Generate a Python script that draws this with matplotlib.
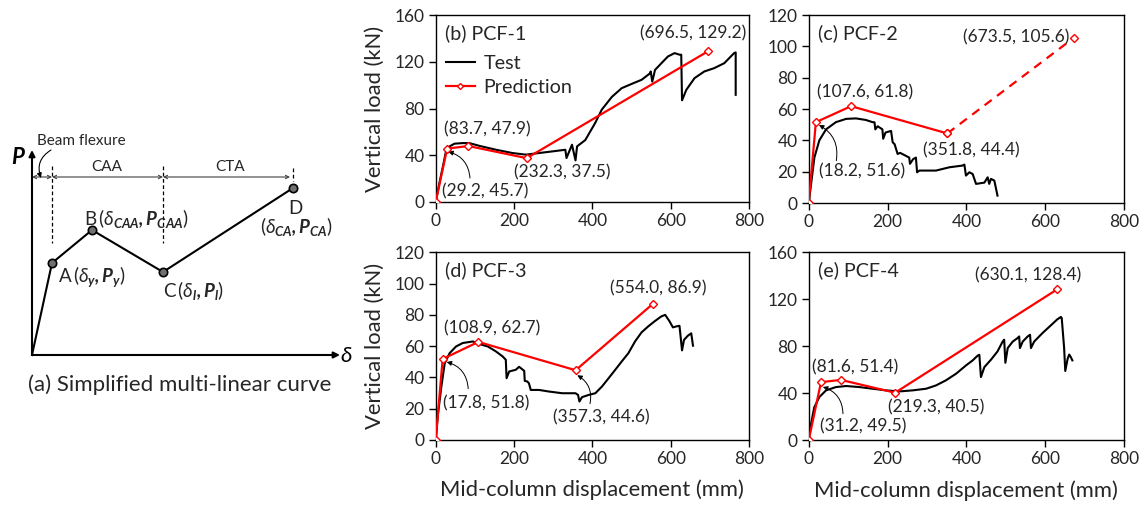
import matplotlib
matplotlib.use('Agg')
import matplotlib.pyplot as plt

plt.rcParams['font.family'] = ['Lato', 'DejaVu Sans']
plt.rcParams['mathtext.fontset'] = 'custom'
plt.rcParams['mathtext.rm'] = 'Lato'
plt.rcParams['mathtext.it'] = 'Lato:italic'
plt.rcParams['mathtext.bf'] = 'Lato:bold'
plt.rcParams['mathtext.bfit'] = 'Lato:bold:italic'
plt.rcParams['mathtext.fallback'] = 'stix'

# ---------------- data ----------------
pcf1_test_x = [0, 10, 20, 27, 35.5, 48, 69, 86, 112, 154, 196, 230, 264, 298, 331, 334, 348, 357, 361,
               382, 407, 424, 450, 475, 500, 526, 547, 549, 553, 560, 576.5, 593, 610, 623, 627, 629,
               640, 661, 686, 711, 737, 762, 766, 766]
pcf1_test_y = [0, 17, 33, 44.7, 47.6, 49.9, 50.4, 50.4, 48, 44.7, 41.9, 40.5, 41.9, 43.3, 44.7, 37.6, 49,
               35.6, 47.6, 53, 67.5, 79, 90, 97.4, 101, 104.6, 110, 111.7, 103, 113, 118.8, 124.5, 127.4,
               126, 126, 87, 96, 106, 111.7, 114.5, 118.8, 127.4, 128, 91.7]
pcf1_pred_x = [0, 29.2, 83.7, 232.3, 696.5]
pcf1_pred_y = [0, 45.7, 47.9, 37.5, 129.2]

pcf2_test_x = [0, 6, 14.4, 27, 44, 69, 95, 120, 145, 162, 167, 169, 175, 187, 189, 195, 209, 213, 218,
               225.6, 232, 255, 257, 265, 272, 275, 281, 323, 357, 390.5, 395, 399, 407.6, 416, 424.6,
               445.7, 454, 458, 462.5, 471, 479]
pcf2_test_y = [0, 12, 29, 40, 47, 51.6, 53.7, 54, 53, 51.6, 51.5, 47, 49, 47, 41, 45, 46, 38.8, 37.5,
               31.3, 32, 29, 25, 28, 29, 19.6, 20.7, 20.7, 22.8, 23.9, 24.5, 17.5, 19.6, 18.5, 12.2,
               13, 16.4, 12.2, 15.4, 14.3, 4.7]
pcf2_pred_x = [0, 18.2, 107.6, 351.8, 673.5]
pcf2_pred_y = [0, 51.6, 61.8, 44.4, 105.6]

pcf3_test_x = [0, 6, 14.4, 23, 35.5, 52, 69, 95, 112, 133, 154, 171, 179, 181, 187.6, 204.5, 213, 226,
               227.4, 234, 238, 242.7, 264, 289, 323, 357, 363.5, 367, 373.6, 390.5, 407.6, 424.6,
               441.5, 458.5, 475, 492, 509, 525.6, 542.5, 559, 576, 586, 597, 605.7, 614, 622.5, 629,
               634, 644, 652.5, 657]
pcf3_test_y = [0, 17, 34, 49, 55.5, 59.8, 62, 63, 61.3, 59.8, 56.6, 53.4, 51.3, 39.5, 43.8, 44.9, 46.8,
               44.2, 37.8, 37.4, 36.3, 32, 32, 31, 29.9, 29.9, 28.8, 24.6, 27.4, 28.8, 29.9, 34.2, 39.5,
               44.9, 50.2, 55.5, 63, 68.8, 72.6, 75.9, 79, 80, 75.9, 72, 72.6, 73, 57.3, 64, 66.7,
               68.2, 60.3]
pcf3_pred_x = [0, 17.8, 108.9, 357.3, 554.0]
pcf3_pred_y = [0, 51.8, 62.7, 44.6, 86.9]

pcf4_test_x = [0, 6, 14, 27, 44, 69, 95, 128.5, 162, 196, 230, 264, 298, 323, 348, 374, 399, 416,
               428.5, 433, 437, 445.7, 462.5, 479, 492, 496, 499, 505, 517.6, 530, 534, 536, 543,
               555.6, 561.6, 564, 572, 593, 614, 631, 640, 642, 648, 651, 657, 661, 665, 669]
pcf4_test_y = [0, 14, 28, 36.8, 42.5, 45.3, 46.2, 45.3, 43.9, 42.5, 41.6, 42.5, 43.9, 46.7, 51, 56.7,
               63.7, 68, 72, 72.8, 53.8, 62.3, 68.6, 75.6, 84, 85.6, 66, 78.5, 84, 87, 88.4, 78.5, 84,
               88.4, 89.8, 78.5, 84, 91.2, 97.7, 103, 105, 104, 79, 59, 69.4, 73, 70.8, 68]
pcf4_pred_x = [0, 31.2, 81.6, 219.3, 630.1]
pcf4_pred_y = [0, 49.5, 51.4, 40.5, 128.4]

panel_titles = ['(b) PCF-1', '(c) PCF-2', '(d) PCF-3', '(e) PCF-4']
x_ticks = [0, 200, 400, 600, 800]
y_ticks_160 = [0, 40, 80, 120, 160]
y_ticks_120 = [0, 20, 40, 60, 80, 100, 120]

# ---------------- layout ----------------
W, H = 1141, 507
fig = plt.figure(figsize=(W / 100, H / 100), dpi=100)


def px_axes(left, top, right, bottom):
    return fig.add_axes([left / W, 1 - bottom / H, (right - left) / W, (bottom - top) / H])


TICK_FS = 12.5
ANN_FS = 12.5
LAB_FS = 15.8
TITLE_FS = 14.2
TXT = '#262626'
RED = '#ff0000'

panels = [
    dict(rect=(435.7, 15, 749, 202), tx=pcf1_test_x, ty=pcf1_test_y, px=pcf1_pred_x, py=pcf1_pred_y,
         yt=y_ticks_160, dashed_last=False, legend=True, ylabel=True, xlabel=False,
         ann=[(657, 144.6), (87.5, 20.5, 126, 9.4, 32, 43), (131, 62.4), (322, 25.4)]),
    dict(rect=(808.7, 15, 1124, 203), tx=pcf2_test_x, ty=pcf2_test_y, px=pcf2_pred_x, py=pcf2_pred_y,
         yt=y_ticks_120, dashed_last=True, legend=False, ylabel=False, xlabel=False,
         ann=[(527, 106), (70, 27, 136, 20, 26, 49.8), (142, 70.4), (413, 33.8)]),
    dict(rect=(435.7, 252.3, 749, 440), tx=pcf3_test_x, ty=pcf3_test_y, px=pcf3_pred_x, py=pcf3_pred_y,
         yt=y_ticks_120, dashed_last=False, legend=False, ylabel=True, xlabel=True,
         ann=[(568.5, 96.7), (83, 32.8, 130, 23.7, 28, 49.9), (143, 71.2), (424, 14.3, 394, 23.2, 361.6, 41.4)]),
    dict(rect=(808.7, 252.3, 1124, 440.3), tx=pcf4_test_x, ty=pcf4_test_y, px=pcf4_pred_x, py=pcf4_pred_y,
         yt=y_ticks_160, dashed_last=False, legend=False, ylabel=False, xlabel=True,
         ann=[(557, 140.3), (87, 22.6, 138, 12.2, 36, 45.4), (117, 62.4), (324, 27.7)]),
]

arrow_kw = dict(arrowstyle='-|>', connectionstyle='arc3,rad=0.35', lw=0.7, color='black',
                mutation_scale=7, shrinkA=0, shrinkB=0)

for p, title in zip(panels, panel_titles):
    l, t, r, b = p['rect']
    ax = px_axes(l, t, r, b)
    ax.set_xlim(0, 800)
    ax.set_ylim(p['yt'][0], p['yt'][-1])
    ax.set_xticks(x_ticks)
    ax.set_yticks(p['yt'])
    ax.tick_params(direction='out', length=5, width=1, colors='black', labelcolor=TXT,
                   labelsize=TICK_FS, pad=3)
    for s in ax.spines.values():
        s.set_color('black')
        s.set_linewidth(1)
    ax.plot(p['tx'], p['ty'], color='black', lw=1.5, label='Test', zorder=3)
    px_, py_ = p['px'], p['py']
    mk = dict(marker='D', ms=4.5, mfc='white', mec=RED, mew=1.0)
    if p['dashed_last']:
        ax.plot(px_[:-1], py_[:-1], color=RED, lw=1.6, zorder=4, **mk)
        ax.plot(px_[-2:], py_[-2:], color=RED, lw=1.6, ls=(0, (4, 3)), zorder=4, **mk)
    else:
        ax.plot(px_, py_, color=RED, lw=1.6, zorder=4, label='Prediction', **mk)
    ax.text(0.03, 0.905, title, transform=ax.transAxes, fontsize=TITLE_FS, color=TXT,
            va='center', ha='left')
    fmt = lambda i: f'({px_[i]:.1f}, {py_[i]:.1f})'
    a = p['ann']
    ax.text(a[0][0], a[0][1], fmt(4), fontsize=ANN_FS, color=TXT, ha='center', va='center')
    ax.text(a[1][2], a[1][3], fmt(1), fontsize=ANN_FS, color=TXT, ha='center', va='center')
    ax.annotate('', xy=(a[1][4], a[1][5]), xytext=(a[1][0], a[1][1]), arrowprops=arrow_kw)
    ax.text(a[2][0], a[2][1], fmt(2), fontsize=ANN_FS, color=TXT, ha='center', va='center')
    ax.text(a[3][0], a[3][1], fmt(3), fontsize=ANN_FS, color=TXT, ha='center', va='center')
    if len(a[3]) > 2:
        ax.annotate('', xy=(a[3][4], a[3][5]), xytext=(a[3][2], a[3][3]), arrowprops=arrow_kw)
    if p['legend']:
        leg = ax.legend(loc='upper left', bbox_to_anchor=(-0.005, 0.85), frameon=False,
                        fontsize=TITLE_FS, handlelength=1.45, handletextpad=0.45, labelspacing=0.35,
                        borderaxespad=0.2)
        for lh in leg.get_lines():
            lh.set_markersize(3)
        for txt in leg.get_texts():
            txt.set_color(TXT)
    if p['ylabel']:
        ax.set_ylabel('Vertical load (kN)', fontsize=LAB_FS, color=TXT, labelpad=7)
    if p['xlabel']:
        ax.set_xlabel('Mid-column displacement (mm)', fontsize=LAB_FS, color=TXT, labelpad=9)

# ---------------- schematic (a) ----------------
sch_origin = (32, 355)
sch_pts_x = [32, 52, 92, 163, 293]
sch_pts_y = [355, 263, 230, 272, 188]

sa = fig.add_axes([0, 0, 1, 1], zorder=-1)
sa.set_xlim(0, W)
sa.set_ylim(H, 0)
sa.axis('off')
sa.patch.set_visible(False)

sa.annotate('', xy=(32, 150), xytext=sch_origin,
            arrowprops=dict(arrowstyle='-|>', lw=1.5, color='black', mutation_scale=9, shrinkA=0, shrinkB=0))
sa.annotate('', xy=(340, 355), xytext=sch_origin,
            arrowprops=dict(arrowstyle='-|>', lw=1.5, color='black', mutation_scale=9, shrinkA=0, shrinkB=0))
sa.plot(sch_pts_x, sch_pts_y, color='black', lw=1.5)
sa.plot(sch_pts_x[1:], sch_pts_y[1:], 'o', ms=6, mfc='#707070', mec='black', mew=1.2)
for xv, y0, y1 in [(52, 166, 243), (163, 166, 243), (293, 168, 181)]:
    sa.plot([xv, xv], [y0, y1], color='black', lw=0.9, ls=(0, (3, 2)))
for x0, x1 in [(32, 52), (52, 163), (163, 290)]:
    sa.annotate('', xy=(x1, 177), xytext=(x0, 177),
                arrowprops=dict(arrowstyle='<->', lw=0.8, color='#404040', mutation_scale=6,
                                shrinkA=0, shrinkB=0))
sa.text(107, 167, 'CAA', fontsize=11, ha='center', va='center', color=TXT)
sa.text(230, 167, 'CTA', fontsize=11, ha='center', va='center', color=TXT)
sa.text(81, 141, 'Beam flexure', fontsize=11, ha='center', va='center', color=TXT)
sa.annotate('', xy=(41, 178), xytext=(51, 150),
            arrowprops=dict(arrowstyle='-|>', connectionstyle='arc3,rad=0.4', lw=0.8, color='black',
                            mutation_scale=7, shrinkA=0, shrinkB=0))
sa.text(18, 157, r'$\mathbfit{P}$', fontsize=16, ha='center', va='center')
sa.text(346, 356, r'$\delta$', fontsize=16, ha='center', va='center')
sa.text(58, 277, r'A$\,(\delta_{\mathbfit{y}}\mathbfit{,}\,\mathbfit{P}_{\mathbfit{y}})$', fontsize=13.5,
        ha='left', va='center', color=TXT)
sa.text(84, 218, r'B$\,(\delta_{\mathbfit{CAA}}\mathbfit{,}\,\mathbfit{P}_{\mathbfit{CAA}})$', fontsize=13.5,
        ha='left', va='center', color=TXT)
sa.text(163, 290, r'C$\,(\delta_{\mathbfit{l}}\mathbfit{,}\,\mathbfit{P}_{\mathbfit{l}})$', fontsize=13.5,
        ha='left', va='center', color=TXT)
sa.text(295, 208, 'D', fontsize=13.5, ha='center', va='center', color=TXT)
sa.text(297, 226, r'$(\delta_{\mathbfit{CA}}\mathbfit{,}\,\mathbfit{P}_{\mathbfit{CA}})$', fontsize=13.5,
        ha='center', va='center', color=TXT)
sa.text(180, 385, '(a) Simplified multi-linear curve', fontsize=16, ha='center', va='center',
        color=TXT)

fig.savefig('out.png', dpi=100)
